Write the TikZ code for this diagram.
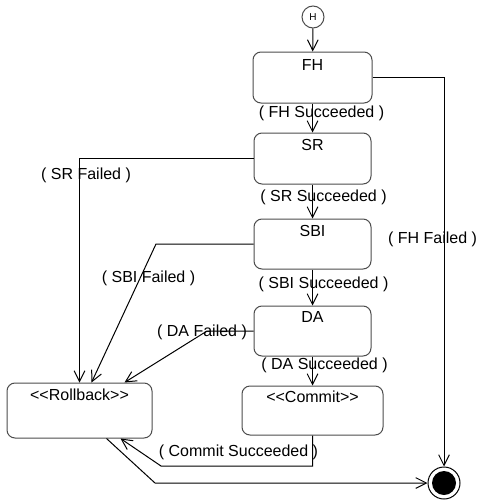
\documentclass[tikz,border=0pt]{standalone}
\usepackage{fontspec}
\setmainfont{Liberation Sans}
\usetikzlibrary{arrows.meta,calc}
\begin{document}
\begin{tikzpicture}[x=0.75pt,y=-0.75pt, font=\fontsize{12}{14}\selectfont,
 state/.style={draw=black!70, line width=0.75pt, rounded corners=6pt, inner sep=0pt},
 sz/.style 2 args={minimum width=#1*0.75pt, minimum height=#2*0.75pt},
 lbl/.style={inner sep=0pt},
 conn/.style={line width=0.75pt, -{Straight Barb[length=8pt,width=8pt]}}]
\useasboundingbox (0,0) rectangle (479,500);
% initial history state
\node[circle,draw=black!70,line width=0.75pt,minimum size=16.5pt,inner sep=0pt,font=\fontsize{7.5}{8}\selectfont] (H) at (313,17) {H};
% states
\node[state,sz={119}{51}] (FH) at (312.5,77.5) {};
\node[lbl] (tFH) at (312.5,65) {FH};
\node[state,sz={117}{51}] (SR) at (312.5,158.5) {};
\node[lbl] (tSR) at (312.5,145) {SR};
\node[state,sz={117}{50}] (SBI) at (312.5,244) {};
\node[lbl] (tSBI) at (312.5,231) {SBI};
\node[state,sz={117}{50}] (DA) at (312.5,331) {};
\node[lbl] (tDA) at (312.5,317) {DA};
\node[state,sz={141}{49}] (CM) at (312.5,410.5) {};
\node[lbl] (tCM) at (312.5,397) {<\kern0pt<Commit>\kern0pt>};
\node[state,sz={145}{55}] (RB) at (79.5,410.5) {};
\node[lbl] (tRB) at (79.5,395) {<\kern0pt<Rollback>\kern0pt>};
% final state
\node[circle,draw,line width=0.75pt,minimum size=24pt,inner sep=0pt] (fin) at (444,483) {};
\node[circle,fill,minimum size=18pt,inner sep=0pt] (finin) at (fin.center) {};
% helper coordinates
\coordinate (sbik) at (156,244);
\coordinate (dak) at (207,331);
\coordinate (cmk1) at (161,466);
\coordinate (rbk) at (155,483);
% connectors
\draw[conn] (H) -- (FH);
\draw[conn] (FH) -- (SR);
\draw[conn] (SR) -- (SBI);
\draw[conn] (SBI) -- (DA);
\draw[conn] (DA) -- (CM);
\draw[conn] (FH) -| (fin);
\draw[conn] (SR) -| (RB);
\draw[conn] (SBI.west) -- (sbik) -- ($(RB.north west)+(85,0)$);
\draw[conn] (DA.west) -- (dak) -- ($(RB.north west)+(118,0)$);
\draw[conn] (CM.south) |- (cmk1) -- ($(RB.south west)+(114,0)$);
\draw[conn] ($(RB.south west)+(100,0)$) -- (rbk) -- (fin.west);
% labels
\node[lbl] (lFHs) at (321.5,113) {( FH Succeeded )};
\node[lbl] (lSRs) at (323.5,197) {( SR Succeeded )};
\node[lbl] (lSBIs) at (323.5,284) {( SBI Succeeded )};
\node[lbl] (lDAs) at (324.5,365) {( DA Succeeded )};
\node[lbl] (lFHf) at (432.5,239) {( FH Failed )};
\node[lbl] (lSRf) at (86,175) {( SR Failed )};
\node[lbl] (lSBIf) at (148.5,278) {( SBI Failed )};
\node[lbl] (lDAf) at (202,332) {( DA Failed )};
\node[lbl] (lCMs) at (238.5,452) {( Commit Succeeded )};
\end{tikzpicture}
\end{document}
